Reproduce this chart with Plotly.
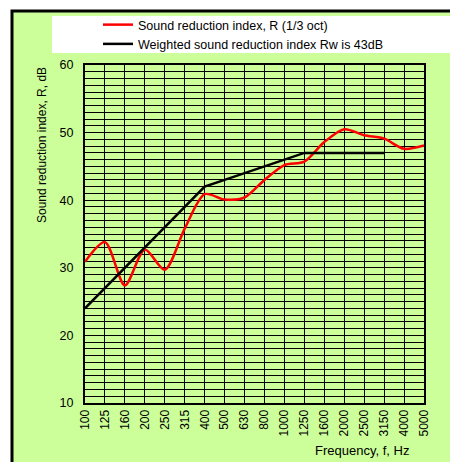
import plotly.graph_objects as go

freqs = ["100", "125", "160", "200", "250", "315", "400", "500", "630", "800",
         "1000", "1250", "1600", "2000", "2500", "3150", "4000", "5000"]
r_values = [30.9, 33.8, 27.4, 32.7, 29.7, 35.8, 40.9, 40.1, 40.4, 43.0,
            45.2, 45.7, 48.6, 50.5, 49.6, 49.1, 47.6, 48.1]
rw_freqs = freqs[:16]
rw_values = [24, 27, 30, 33, 36, 39, 42, 43, 44, 45, 46, 47, 47, 47, 47, 47]

OFF = 8  # page body margin
W, H = 458 - OFF, 462 - OFF
L, T = 85 - OFF, 65 - OFF
R = W - (424 - OFF)
B = H - (403 - OFF)
pw, ph = W - L - R, H - T - B

def px(x):
    return (x - OFF - L) / pw

def py(y):
    return (H - B - (y - OFF)) / ph

GREEN = "#CCFF99"
FONT = "Liberation Sans, Arial, sans-serif"

fig = go.Figure()
fig.add_trace(go.Scatter(x=freqs, y=r_values, mode="lines",
                         line=dict(color="#FF0000", width=2.5, shape="spline", smoothing=0.8),
                         name="Sound reduction index, R (1/3 oct)"))
fig.add_trace(go.Scatter(x=rw_freqs, y=rw_values, mode="lines",
                         line=dict(color="#000000", width=2.5),
                         name="Weighted sound reduction index Rw is 43dB"))

shapes = [
    dict(type="rect", xref="paper", yref="paper", layer="below",
         x0=px(12), x1=px(490), y0=py(11), y1=py(490),
         fillcolor=GREEN, line=dict(color="black", width=3)),
    dict(type="rect", xref="paper", yref="paper", layer="below",
         x0=px(52), x1=px(480), y0=py(16), y1=py(53),
         fillcolor="white", line=dict(width=0)),
]

fig.update_layout(
    width=W, height=H,
    margin=dict(l=L, r=R, t=T, b=B, autoexpand=False),
    paper_bgcolor="white",
    plot_bgcolor=GREEN,
    font=dict(family=FONT, size=12, color="black"),
    shapes=shapes,
    showlegend=True,
    legend=dict(x=px(98), y=py(10), xanchor="left", yanchor="top",
                bgcolor="rgba(0,0,0,0)", font=dict(size=12.5, family=FONT),
                tracegroupgap=0, itemwidth=30),
    annotations=[
        dict(text="Sound reduction index, R, dB", textangle=-90,
             xref="paper", yref="paper", x=px(42), y=py(145),
             xanchor="center", yanchor="middle",
             showarrow=False, font=dict(size=12, family=FONT)),
        dict(text="Frequency, f, Hz", xref="paper", yref="paper",
             x=px(362), y=py(450), xanchor="center", yanchor="middle",
             showarrow=False, font=dict(size=13, family=FONT)),
    ],
)

fig.update_xaxes(type="category", categoryorder="array", categoryarray=freqs,
                 range=[0, 17], showgrid=True, gridcolor="black", gridwidth=1,
                 tickangle=-90, ticks="", showline=True, linecolor="black",
                 linewidth=2, mirror=True, zeroline=False,
                 tickfont=dict(size=12, family=FONT))
fig.update_yaxes(range=[10, 60], tickvals=[10, 20, 30, 40, 50, 60],
                 showgrid=True, gridcolor="black", gridwidth=1,
                 minor=dict(dtick=1, showgrid=True, gridcolor="black", gridwidth=1),
                 ticks="", showline=True, linecolor="black", linewidth=2,
                 mirror=True, zeroline=False, ticklabelstandoff=7,
                 tickfont=dict(size=12.5, family=FONT))

fig.write_html("out.html")
